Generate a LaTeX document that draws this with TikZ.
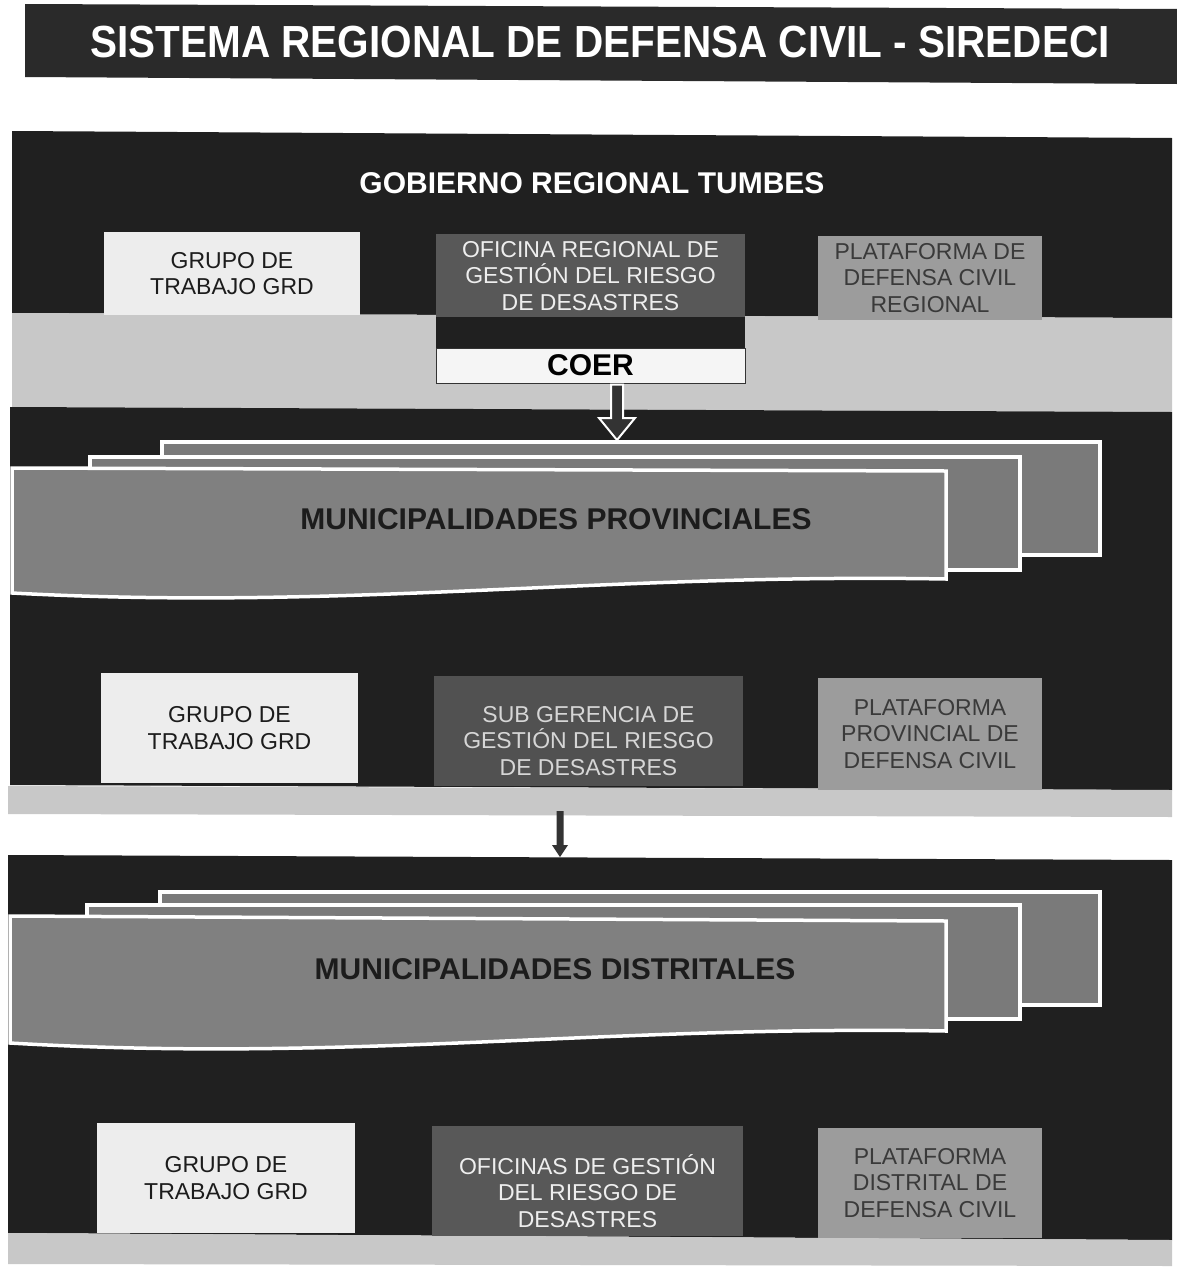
\documentclass[tikz,border=0pt]{standalone}
\usepackage{fontspec}
\usepackage{graphicx}
\setmainfont{Liberation Sans}
\usetikzlibrary{calc}
\definecolor{bgdark}{HTML}{202020}
\definecolor{titledark}{HTML}{2A2A2A}
\definecolor{bandlight}{HTML}{C8C8C8}
\definecolor{boxlight}{HTML}{EDEDED}
\definecolor{boxmid}{HTML}{585858}
\definecolor{boxgray}{HTML}{9C9C9C}
\definecolor{docgray}{HTML}{808080}
\definecolor{textdark}{HTML}{1C1C1C}
\definecolor{textlight}{HTML}{EEEEEE}
\definecolor{textplat}{HTML}{3A3A3A}
\definecolor{coerfill}{HTML}{F5F5F5}
\definecolor{arrowdark}{HTML}{333333}
\begin{document}
\begin{tikzpicture}[x=1pt,y=-1pt,
  box/.style={rectangle, inner sep=0pt, align=center, font=\fontsize{23}{26.5}\selectfont},
  boxtext/.style={inner sep=0pt, align=center, font=\fontsize{23}{26.5}\selectfont},
  grupobox/.style={box, fill=boxlight, text=textdark},
  oficinabox/.style={box, fill=boxmid, text=textlight},
  platbox/.style={box, fill=boxgray, text=textplat},
  docrect/.style={rectangle, fill=docgray!95!black, draw=white, line width=3.5pt, inner sep=0pt, anchor=north west},
  docshape/.style={fill=docgray, draw=white, line width=3.5pt},
  doclabel/.style={font=\fontsize{30}{34}\selectfont\bfseries, text=textdark},
  sectiondark/.style={fill=bgdark},
  band/.style={fill=bandlight},
  hollowarrow/.style={fill=arrowdark, draw=white, line width=2pt, line join=miter},
  solidarrow/.style={fill=arrowdark}
]
\useasboundingbox[fill=white] (0,0) rectangle (1177,1269);

% title bar
\fill[titledark] (25,4) -- (1177,9) -- (1177,84) -- (25,77) -- cycle;
\node[text=white, font=\fontsize{45}{50}\selectfont\bfseries] (title) at (600,42)
  {\scalebox{0.9}[1]{SISTEMA REGIONAL DE DEFENSA CIVIL - SIREDECI}};

% section backgrounds
\fill[sectiondark] (12,131) -- (1172,138) -- (1172,318) -- (12,313) -- cycle;
\fill[band] (12,313) -- (1172,318) -- (1172,412) -- (12,407) -- cycle;
\fill[sectiondark] (10,407) -- (1172,412) -- (1172,790) -- (10,785) -- cycle;
\fill[band] (8,786) -- (1172,790) -- (1172,817) -- (8,814) -- cycle;
\fill[sectiondark] (8,855) -- (1172,860) -- (1172,1240) -- (8,1233) -- cycle;
\fill[band] (8,1233) -- (1172,1240) -- (1172,1266) -- (8,1264) -- cycle;

% section 1
\node[text=white, font=\fontsize{30}{34}\selectfont\bfseries] (gob) at (592,183) {GOBIERNO REGIONAL TUMBES};
\node[grupobox, minimum width=256pt, minimum height=83pt] (g1) at (232,273.5) {GRUPO DE\\TRABAJO GRD};
\node[oficinabox, minimum width=309pt, minimum height=84pt] (o1) at (590.5,276) {OFICINA REGIONAL DE\\GESTIÓN DEL RIESGO\\DE DESASTRES};
\fill[bgdark] (436,317) rectangle (745,348);
\node[rectangle, fill=coerfill, draw=arrowdark, line width=1pt, minimum width=309pt, minimum height=35pt, inner sep=0pt,
  font=\fontsize{30}{34}\selectfont\bfseries, text=black] (coer) at (590.5,365.5) {COER};
\node[platbox, minimum width=224pt, minimum height=84pt] (p1) at (930,278) {PLATAFORMA DE\\DEFENSA CIVIL\\REGIONAL};

% municipalidades provinciales (multi document)
\node[docrect, minimum width=938pt, minimum height=113pt] (mpback) at (160,440) {};
\node[docrect, minimum width=930pt, minimum height=113pt] (mpmid) at (88,455) {};
\path[docshape] (12,468) -- (946,471) -- (946,579) .. controls (600,573) and (350,611) .. (12,593) -- cycle;
\node[doclabel] (mp) at (556,519) {MUNICIPALIDADES PROVINCIALES};

% arrow 1 (hollow)
\coordinate (a1x) at (617,0);
\coordinate (a1s) at (coer.south -| a1x);
\coordinate (a1e) at (mpback.north -| a1x);
\path[hollowarrow] ($(a1s)+(-6,1)$) -- ($(a1e)+(-6,-22)$) -- ($(a1e)+(-18,-22)$) -- (a1e)
  -- ($(a1e)+(18,-22)$) -- ($(a1e)+(6,-22)$) -- ($(a1s)+(6,1)$) -- cycle;

% section 2 boxes
\node[grupobox, minimum width=257pt, minimum height=110pt] (g2) at (229.5,728) {GRUPO DE\\TRABAJO GRD};
\node[oficinabox, fill=boxmid!92!black, minimum width=309pt, minimum height=110pt] (o2) at (588.5,731) {};
\node[boxtext, text=textlight!90!black] (o2t) at ($(o2)+(0,10)$) {SUB GERENCIA DE\\GESTIÓN DEL RIESGO\\DE DESASTRES};
\node[platbox, minimum width=224pt, minimum height=112pt] (p2) at (930,734) {PLATAFORMA\\PROVINCIAL DE\\DEFENSA CIVIL};

% arrow 2 (solid)
\coordinate (a2s) at (560,811);
\coordinate (a2e) at (560,857);
\fill[solidarrow] ($(a2s)+(-3.5,0)$) -- ($(a2e)+(-3.5,-12)$) -- ($(a2e)+(-8,-12)$) -- (a2e)
  -- ($(a2e)+(8,-12)$) -- ($(a2e)+(3.5,-12)$) -- ($(a2s)+(3.5,0)$) -- cycle;

% municipalidades distritales (multi document)
\node[docrect, minimum width=940pt, minimum height=113pt] (mdback) at (158,890) {};
\node[docrect, minimum width=933pt, minimum height=114pt] (mdmid) at (85,903) {};
\path[docshape] (10,916) -- (946,921) -- (946,1031) .. controls (600,1025) and (350,1063) .. (10,1043) -- cycle;
\node[doclabel] (md) at (555,969) {MUNICIPALIDADES DISTRITALES};

% section 3 boxes
\node[grupobox, minimum width=258pt, minimum height=110pt] (g3) at (226,1178) {GRUPO DE\\TRABAJO GRD};
\node[oficinabox, minimum width=311pt, minimum height=110pt] (o3) at (587.5,1181) {};
\node[boxtext, text=textlight] (o3t) at ($(o3)+(0,10)$) {OFICINAS DE GESTIÓN\\DEL RIESGO DE\\DESASTRES};
\node[platbox, minimum width=224pt, minimum height=110pt] (p3) at (930,1183) {PLATAFORMA\\DISTRITAL DE\\DEFENSA CIVIL};
\end{tikzpicture}
\end{document}
